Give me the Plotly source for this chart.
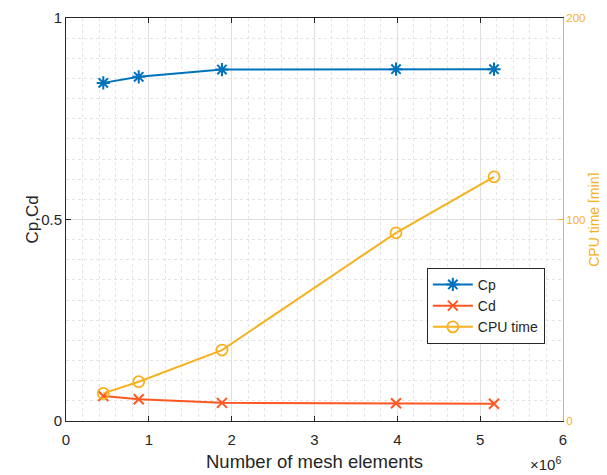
import plotly.graph_objects as go

mesh_elements = [0.45e6, 0.878e6, 1.883e6, 3.984e6, 5.167e6]
cp_values = [0.839, 0.854, 0.872, 0.873, 0.873]
cd_values = [0.062, 0.054, 0.045, 0.044, 0.043]
cpu_time = [13.7, 19.5, 35.2, 93.4, 121.2]

x_tickvals = [0, 1e6, 2e6, 3e6, 4e6, 5e6, 6e6]
x_ticktext = ["0", "1", "2", "3", "4", "5", "6"]
y_tickvals = [0, 0.5, 1]
y_ticktext = ["0", "0.5", "1"]
y2_tickvals = [0, 100, 200]
y2_ticktext = ["0", "100", "200"]

C_CP = "#0072BD"
C_CD = "#FF5722"
C_CPU = "#F7B11E"
DARK = "#262626"
FONT = "Liberation Sans, Arial, sans-serif"

fig = go.Figure()
fig.add_trace(go.Scatter(
    x=mesh_elements, y=cp_values, name="Cp", mode="lines+markers",
    line=dict(color=C_CP, width=2),
    marker=dict(symbol="asterisk-open", size=11, line=dict(color=C_CP, width=2)),
))
fig.add_trace(go.Scatter(
    x=mesh_elements, y=cd_values, name="Cd", mode="lines+markers",
    line=dict(color=C_CD, width=2),
    marker=dict(symbol="x-thin-open", size=10, line=dict(color=C_CD, width=2)),
))
fig.add_trace(go.Scatter(
    x=mesh_elements, y=cpu_time, name="CPU time", mode="lines+markers",
    yaxis="y2",
    line=dict(color=C_CPU, width=2),
    marker=dict(symbol="circle-open", size=11, line=dict(color=C_CPU, width=1.8)),
))

# page body has an 8px margin on left/top, so the figure is 8px smaller
fig.update_layout(
    width=599, height=467,
    margin=dict(l=58, r=44, t=10, b=54, autoexpand=False),
    paper_bgcolor="white", plot_bgcolor="white",
    font=dict(family=FONT, color=DARK, size=15),
    showlegend=True,
    legend=dict(
        x=0.726, y=0.38, xanchor="left", yanchor="top",
        bgcolor="white", bordercolor=DARK, borderwidth=1,
        font=dict(size=14, color=DARK), itemwidth=40,
        tracegroupgap=0,
    ),
    xaxis=dict(
        range=[0, 6e6], tickmode="array", tickvals=x_tickvals, ticktext=x_ticktext,
        showline=True, linecolor=DARK, linewidth=1, mirror="ticks",
        ticks="inside", ticklen=5, tickcolor=DARK,
        showgrid=True, gridcolor="#E0E0E0", gridwidth=1,
        zeroline=False, automargin=False,
        minor=dict(dtick=0.2e6, tick0=0, showgrid=True, gridcolor="#E4E4E4",
                   griddash="dot", ticks=""),
        tickfont=dict(size=15, color=DARK), ticklabelstandoff=5,
    ),
    yaxis=dict(
        range=[0, 1], tickmode="array", tickvals=y_tickvals, ticktext=y_ticktext,
        showline=True, linecolor=DARK, linewidth=1, mirror=False,
        ticks="inside", ticklen=5, tickcolor=DARK,
        showgrid=True, gridcolor="#E0E0E0", gridwidth=1,
        zeroline=False, automargin=False,
        minor=dict(dtick=0.05, tick0=0, showgrid=True, gridcolor="#E4E4E4",
                   griddash="dot", ticks=""),
        tickfont=dict(size=15, color=DARK),
    ),
    yaxis2=dict(
        range=[0, 200], overlaying="y", side="right", anchor="x",
        tickmode="array", tickvals=y2_tickvals, ticktext=y2_ticktext,
        showline=True, linecolor=C_CPU, linewidth=1,
        ticks="inside", ticklen=5, tickcolor=C_CPU,
        showgrid=False, zeroline=False, automargin=False,
        tickfont=dict(size=11.5, color=C_CPU),
    ),
    annotations=[
        dict(text="Number of mesh elements", xref="paper", yref="paper",
             x=0.5, y=-0.0993, xanchor="center", yanchor="middle", showarrow=False,
             font=dict(size=18.5, color=DARK)),
        dict(text="Cp,Cd", xref="paper", yref="paper",
             x=-0.0684, y=0.5, xanchor="center", yanchor="middle", showarrow=False,
             textangle=-90, font=dict(size=17, color=DARK)),
        dict(text="CPU time [min]", xref="paper", yref="paper",
             x=1.061, y=0.5, xanchor="center", yanchor="middle", showarrow=False,
             textangle=-90, font=dict(size=14, color=C_CPU)),
        dict(text="×10<sup>6</sup>", xref="paper", yref="paper", x=1.0, y=-0.134,
             xanchor="right", yanchor="bottom", showarrow=False,
             font=dict(size=15, color=DARK)),
    ],
)

fig.write_html("out.html")
